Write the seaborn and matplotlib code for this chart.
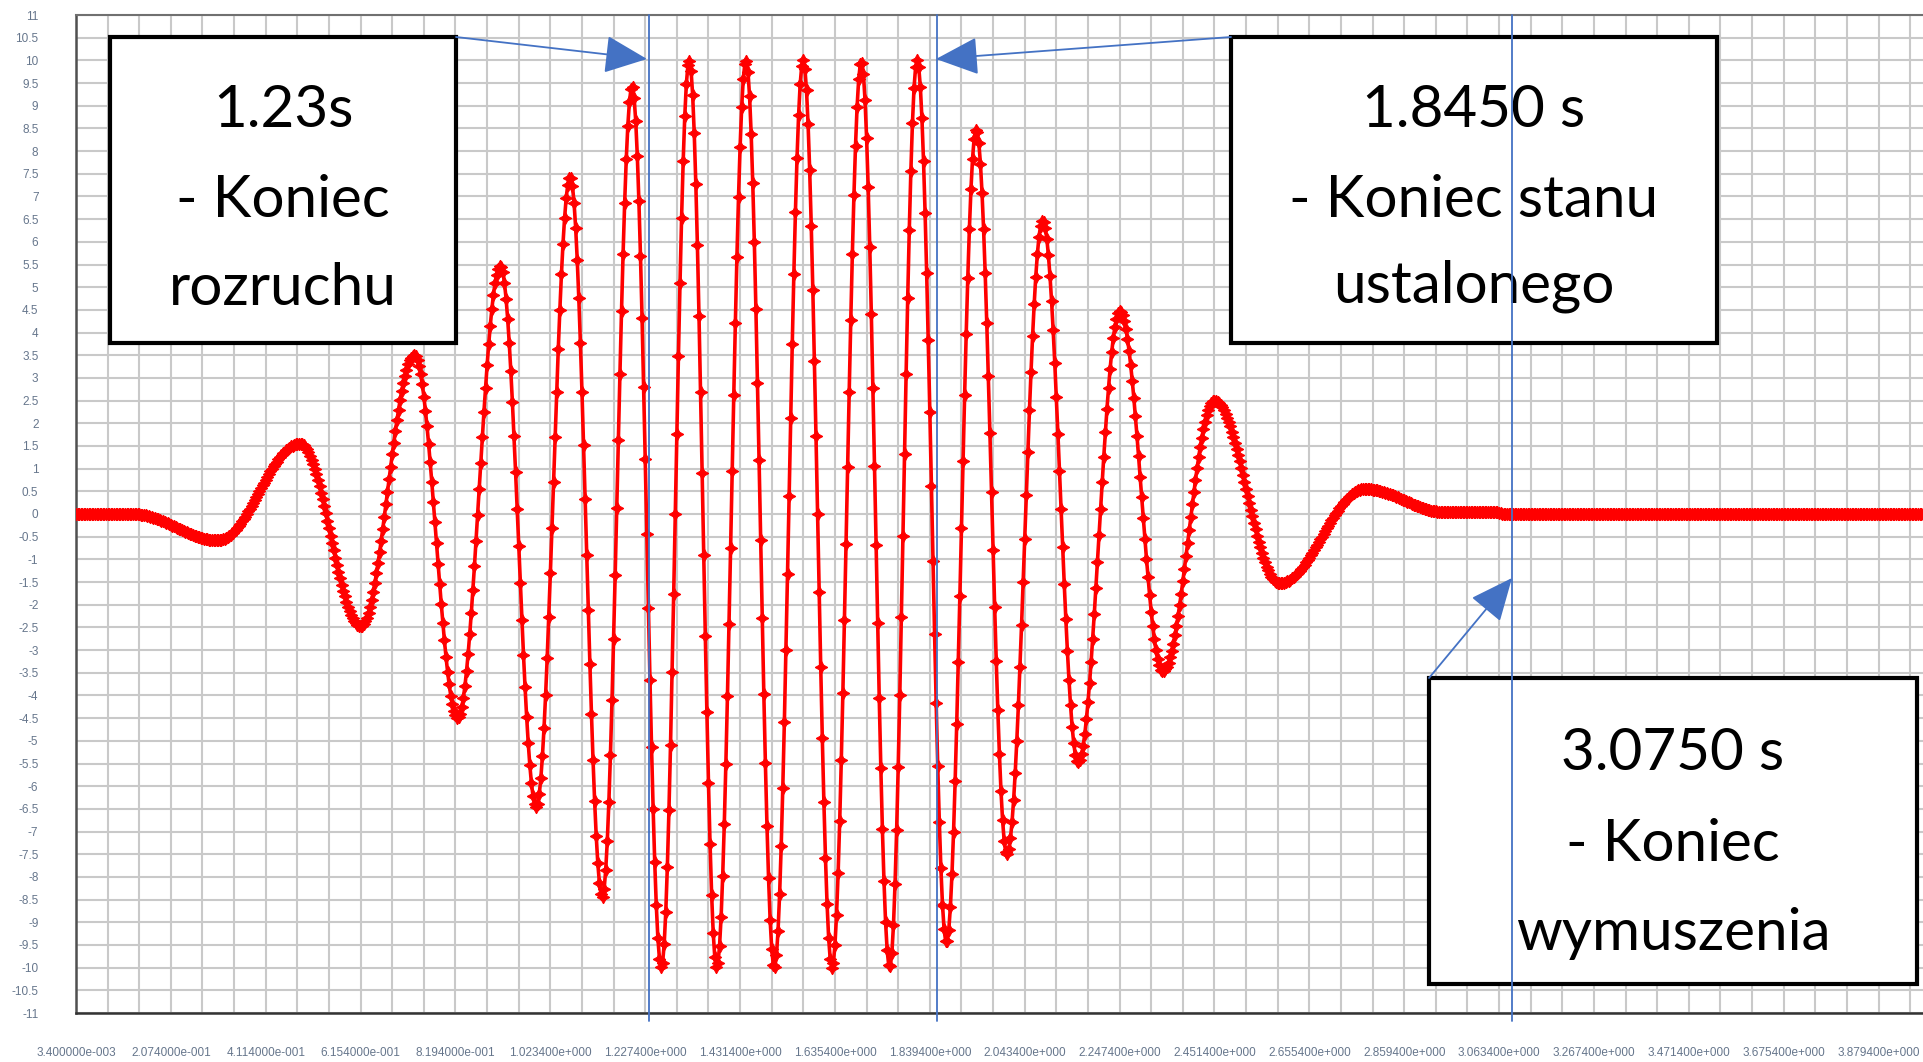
import numpy as np
import matplotlib
matplotlib.use("Agg")
import matplotlib.pyplot as plt
import seaborn as sns
from matplotlib.patches import Rectangle, FancyArrowPatch

# ---------------- data ----------------
sample_step = 0.0034          # spacing of the plotted samples [s]
t_first = 0.0034
t_last = 3.975

# extrema / corner points of the response (time [s], value)
knot_t = [0.0034, 0.126, 0.309, 0.485, 0.616, 0.731, 0.824, 0.916, 0.993,
          1.066, 1.135, 1.199, 1.262, 1.322, 1.381, 1.444, 1.505, 1.567,
          1.629, 1.692, 1.753, 1.812, 1.875, 1.939, 2.005, 2.082, 2.158,
          2.248, 2.340, 2.451, 2.591, 2.775, 2.947, 3.060, 3.072, 3.975]
knot_v = [0.0, 0.0, -0.58, 1.55, -2.47, 3.50, -4.49, 5.47, -6.45,
          7.43, -8.44, 9.42, -10.0, 10.0, -10.0, 10.0, -10.0, 10.0,
          -10.0, 9.97, -10.0, 10.0, -9.45, 8.48, -7.50, 6.47, -5.48,
          4.47, -3.47, 2.50, -1.53, 0.55, 0.04, 0.04, 0.0, 0.0]

y_tick_values = [v / 2 for v in range(-22, 23)]
x_tick_first = 0.0034
x_tick_step = 0.068
x_tick_count = 59
x_label_every = 3

event_times = [1.2363, 1.854, 3.0916]
box_lines = [["1.23s", "- Koniec", "rozruchu"],
             ["1.8450 s", "- Koniec stanu", "ustalonego"],
             ["3.0750 s", "- Koniec", "wymuszenia"]]

# ---------------- build sampled curve ----------------
kt = np.array(knot_t)
kv = np.array(knot_v)
t = np.arange(t_first, t_last + 1e-9, sample_step)
idx = np.clip(np.searchsorted(kt, t, side="right") - 1, 0, len(kt) - 2)
s = np.clip((t - kt[idx]) / (kt[idx + 1] - kt[idx]), 0, 1)
v = kv[idx] + (kv[idx + 1] - kv[idx]) * (1 - np.cos(np.pi * s)) / 2


def sci3(x):
    m, e = f"{x:.6e}".split("e")
    ei = int(e)
    return f"{m}e{'-' if ei < 0 else '+'}{abs(ei):03d}"


# ---------------- figure ----------------
sns.set_style("white")
plt.rcParams["font.family"] = ["Liberation Sans", "DejaVu Sans"]

W, H = 1923, 1062
fig = plt.figure(figsize=(W / 100, H / 100), dpi=100)
ax = fig.add_axes([76 / W, (H - 1013) / H, (W - 76) / W, (1013 - 15) / H])

sns.lineplot(x=t, y=v, ax=ax, estimator=None, sort=False, color="#ff0000",
             linewidth=2.6, marker=(4, 1, 0), markersize=9,
             markeredgewidth=0.8, markeredgecolor="#ff0000", zorder=3)

ax.set_xlim(t_first, t_last)
ax.set_ylim(-11, 11)

xt = [x_tick_first + x_tick_step * i for i in range(x_tick_count)]
ax.set_xticks(xt)
ax.set_xticklabels([sci3(x) if i % x_label_every == 0 else "" for i, x in enumerate(xt)])
ax.set_yticks(y_tick_values)
ax.set_yticklabels([f"{y:g}" for y in y_tick_values])

ax.tick_params(axis="x", direction="out", length=21.5, width=1.6, color="#3a3a3a",
               pad=3.0, labelsize=8.5, labelcolor="#66768c")
ax.tick_params(axis="y", direction="out", length=21.0, width=1.6, color="#3a3a3a",
               pad=6.0, labelsize=8.5, labelcolor="#66768c")
ax.grid(True, color="#c9c9c9", linewidth=1.5)
ax.set_axisbelow(True)
ax.set_xlabel("")
ax.set_ylabel("")

for side, c, lw in [("left", "#505050", 1.8), ("bottom", "#333333", 1.8), ("top", "#707070", 1.5)]:
    ax.spines[side].set_color(c)
    ax.spines[side].set_linewidth(lw)
ax.spines["right"].set_visible(False)

# ---------------- annotations ----------------
def fpt(px, py):
    return (px / W, 1 - py / H)

blue = "#4472C4"
boxes = [(110, 37, 456, 343), (1231, 37, 1717, 343), (1429, 678, 1917, 984)]
baselines = [(127, 217, 305), (127, 217, 302), (770, 861, 950)]
for (x0, y0, x1, y1), lines, bls in zip(boxes, box_lines, baselines):
    fx0, fy1 = fpt(x0, y1)
    fx1, fy0 = fpt(x1, y0)
    ax.add_patch(Rectangle((fx0, fy1), fx1 - fx0, fy0 - fy1, transform=fig.transFigure,
                           facecolor="white", edgecolor="black", linewidth=3.0,
                           zorder=5, clip_on=False))
    cx = (x0 + x1) / 2
    for txt, bl in zip(lines, bls):
        px, py = fpt(cx, bl)
        ax.text(px, py, txt, transform=fig.transFigure, ha="center", va="baseline",
                fontsize=42, family="Lato", color="black", zorder=6, clip_on=False)

for et in event_times:
    ax.axvline(et, ymin=-0.008, ymax=1, color=blue, linewidth=1.3, zorder=7, clip_on=False)

arrows = [((456, 37), (647, 59)), ((1231, 37), (936, 59)), ((1429, 678), (1512, 578))]
for a, b in arrows:
    ax.add_patch(FancyArrowPatch(fpt(*a), fpt(*b), transform=fig.transFigure,
                                 arrowstyle="-|>,head_length=27,head_width=12",
                                 mutation_scale=1, color=blue, linewidth=1.3,
                                 shrinkA=0, shrinkB=0, zorder=7, clip_on=False))

fig.savefig("out.png", dpi=100)
